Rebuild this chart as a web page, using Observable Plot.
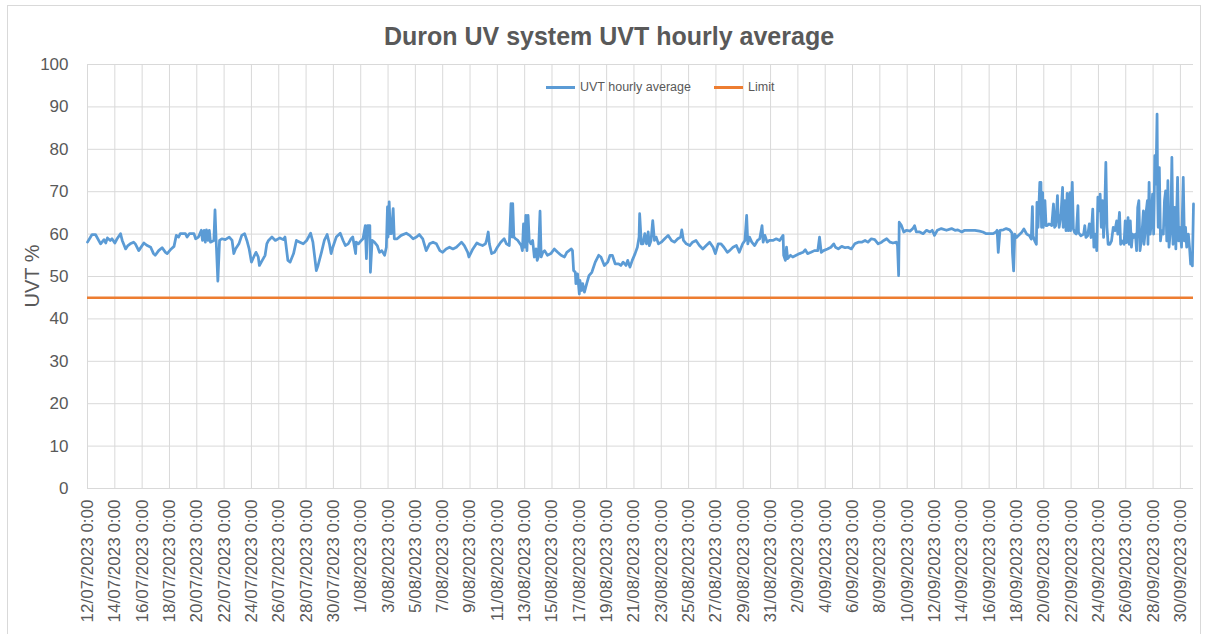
<!DOCTYPE html>
<html><head><meta charset="utf-8">
<script src="https://cdn.jsdelivr.net/npm/d3@7"></script>
<script src="https://cdn.jsdelivr.net/npm/@observablehq/plot@0.6"></script>
<style>
html,body{margin:0;padding:0;background:#fff;}
#wrap{position:relative;width:1206px;height:634px;overflow:hidden;font-family:'Liberation Sans',Arial,sans-serif;color:#595959;}
#wrap svg.plot{position:absolute;left:0;top:0;}
.abs{position:absolute;white-space:nowrap;}
</style></head><body>
<div id="wrap"></div>
<script>
const chartTitle = "Duron UV system UVT hourly average";
const yAxisTitle = "UVT %";
const seriesNames = ["UVT hourly average", "Limit"];
const seriesColors = ["#5b9bd5", "#ed7d31"];
const startDateUTC = [2023, 6, 12]; // 12/07/2023 0:00
const limitValue = 45;
const yTicks = [0, 10, 20, 30, 40, 50, 60, 70, 80, 90, 100];
const xTickLabels = ["12/07/2023 0:00","14/07/2023 0:00","16/07/2023 0:00","18/07/2023 0:00","20/07/2023 0:00","22/07/2023 0:00","24/07/2023 0:00","26/07/2023 0:00","28/07/2023 0:00","30/07/2023 0:00","1/08/2023 0:00","3/08/2023 0:00","5/08/2023 0:00","7/08/2023 0:00","9/08/2023 0:00","11/08/2023 0:00","13/08/2023 0:00","15/08/2023 0:00","17/08/2023 0:00","19/08/2023 0:00","21/08/2023 0:00","23/08/2023 0:00","25/08/2023 0:00","27/08/2023 0:00","29/08/2023 0:00","31/08/2023 0:00","2/09/2023 0:00","4/09/2023 0:00","6/09/2023 0:00","8/09/2023 0:00","10/09/2023 0:00","12/09/2023 0:00","14/09/2023 0:00","16/09/2023 0:00","18/09/2023 0:00","20/09/2023 0:00","22/09/2023 0:00","24/09/2023 0:00","26/09/2023 0:00","28/09/2023 0:00","30/09/2023 0:00"];

// [hours since 12/07/2023 0:00, UVT %]
const readingsJul = [[0,58.1],[8,59.9],[14,59.9],[23,57.7],[29,58.7],[32,57.9],[35,59.1],[40,58.5],[43,58.9],[48,57.9],[52,58.9],[58,60.1],[61,58.5],[67,56.5],[71,57.3],[75,57.7],[81,58.1],[84,57.7],[90,56.1],[99,57.9],[105,57.3],[111,56.9],[116,55.4],[119,55.0],[125,56.1],[131,56.8],[137,55.7],[140,55.4],[147,56.5],[152,57.1],[156,59.7],[160,59.3],[163,60.1],[172,60.1],[175,59.3],[179,60.1],[187,60.1],[190,58.9],[195,59.3],[200,60.9],[202,58.5],[205,60.9],[207,58.1],[209,61.0],[212,58.5],[214,60.9],[216,58.1],[222,58.5],[224,65.7],[226,58.5],[229,48.9],[232,58.5],[236,58.9],[242,58.7],[249,59.3],[254,58.5],[257,55.4],[260,56.5],[266,57.7],[271,59.7],[276,60.1],[280,58.5],[284,56.5],[288,53.4],[292,54.6],[296,55.7],[300,54.6],[302,52.6],[307,53.8],[312,55.0],[315,57.7],[318,58.5],[324,59.3],[330,58.5],[338,59.1],[344,58.7],[347,59.3],[352,53.8],[356,53.4],[362,55.4],[367,58.5],[373,58.1],[379,57.7],[385,58.5],[392,60.2],[396,58.1],[402,51.4],[405,52.6],[411,55.7],[416,58.5],[421,59.9],[425,57.7],[428,55.4],[431,56.9],[437,59.3],[444,60.2],[449,58.5],[453,57.3],[458,57.7],[463,58.9],[466,59.3],[471,55.4],[472,58.1],[476,57.7]];
const readingsAug = [[481,58.5],[484,58.9],[488,62.0],[490,54.2],[492,62.0],[496,62.0],[497,51.0],[500,58.5],[504,58.1],[509,57.3],[513,55.7],[517,56.1],[522,55.0],[525,56.9],[527,66.4],[528,59.3],[530,67.6],[532,60.1],[534,60.1],[537,66.0],[539,58.9],[544,58.9],[551,59.7],[560,60.2],[566,59.7],[572,58.9],[578,59.3],[583,59.9],[589,58.9],[595,56.1],[601,57.7],[607,58.1],[613,57.7],[619,56.1],[624,55.7],[630,56.5],[636,56.9],[642,56.5],[648,56.9],[654,57.7],[657,58.1],[662,57.3],[668,55.7],[670,54.6],[677,56.5],[684,57.9],[688,57.6],[694,57.3],[699,57.7],[701,58.5],[704,60.5],[706,57.7],[710,55.4],[715,55.7],[720,56.9],[726,58.1],[732,58.9],[736,57.7],[741,57.3],[744,67.2],[746,59.3],[747,67.2],[749,59.3],[752,58.9],[756,58.5],[762,57.3],[764,56.1],[766,62.4],[768,56.9],[770,64.4],[772,56.1],[774,64.4],[776,58.5],[779,57.7],[782,58.5],[785,54.6],[788,56.5],[790,53.8],[792,54.6],[795,65.4],[797,54.6],[800,55.7],[803,56.1],[808,55.0],[814,55.4],[820,56.5],[826,55.7],[832,55.0],[838,54.6],[842,55.7],[850,56.5],[852,56.1],[854,51.4],[857,51.0],[858,48.3],[861,50.6],[864,45.9],[865,49.1],[868,46.7],[870,48.3],[873,46.3],[877,48.3],[881,50.2],[886,51.0],[892,53.4],[898,55.0],[902,54.6],[908,52.6],[914,53.4],[918,55.0],[922,55.0],[927,53.0],[933,53.0],[937,52.6],[941,53.4],[946,52.6],[949,53.8],[953,52.2],[957,53.8],[962,55.4],[966,56.9],[969,59.3],[970,64.8],[973,57.7],[976,57.7],[979,60.1],[982,57.7],[985,60.5],[987,57.3],[990,58.5],[993,63.2],[996,58.5],[999,59.3],[1003,57.7],[1008,58.1],[1014,58.9],[1020,59.7],[1026,58.5],[1031,58.1],[1037,58.9],[1042,59.3],[1044,61.0],[1047,58.5],[1052,57.7],[1058,57.3],[1063,58.1],[1069,58.5],[1075,57.3],[1081,56.5],[1087,57.3],[1093,58.1],[1099,56.9],[1103,55.4],[1108,57.7],[1113,57.7],[1118,56.9],[1124,55.7],[1128,56.1],[1134,56.9],[1140,57.3],[1145,55.7],[1151,57.7],[1155,58.5],[1158,64.4],[1160,57.7],[1163,59.3],[1167,58.1],[1172,57.3],[1177,58.5],[1181,58.9],[1185,62.0],[1187,58.1],[1190,59.7],[1194,58.1],[1198,58.5],[1204,58.5],[1210,58.9],[1216,58.5],[1222,59.7],[1223,55.0]];
const readingsSep = [[1226,53.8],[1228,56.9],[1230,54.2],[1235,55.0],[1239,54.6],[1245,55.0],[1251,55.4],[1257,55.7],[1261,56.3],[1265,55.4],[1271,55.7],[1277,56.1],[1283,56.1],[1286,59.3],[1289,55.7],[1293,56.1],[1300,56.5],[1306,56.9],[1311,57.7],[1314,56.9],[1319,56.5],[1325,57.1],[1331,56.8],[1336,56.9],[1342,56.5],[1348,57.7],[1354,58.1],[1360,58.1],[1366,58.5],[1371,58.1],[1377,58.9],[1383,58.7],[1389,57.7],[1395,58.1],[1399,58.5],[1404,58.9],[1410,58.1],[1415,57.9],[1421,58.1],[1423,57.3],[1425,50.2],[1426,62.8],[1430,62.0],[1434,60.5],[1439,60.9],[1445,60.7],[1450,61.3],[1453,62.0],[1456,60.5],[1462,60.5],[1468,60.1],[1474,60.9],[1480,60.5],[1484,60.9],[1488,59.7],[1493,60.9],[1500,61.3],[1509,60.9],[1518,61.3],[1524,60.9],[1529,61.0],[1536,60.5],[1541,60.9],[1550,60.9],[1559,60.9],[1567,60.7],[1573,60.5],[1579,60.1],[1585,60.1],[1591,60.1],[1596,60.5],[1598,60.9],[1600,55.7],[1603,60.9],[1609,61.0],[1614,61.3],[1620,61.0],[1624,60.3],[1625,55.5],[1627,51.3],[1629,60.0],[1632,59.2],[1635,59.6],[1641,60.4],[1645,61.2],[1650,60.0],[1655,59.6],[1658,58.8],[1660,66.5],[1661,59.6],[1664,58.4],[1667,57.6],[1668,67.5],[1670,61.6],[1673,72.2],[1675,72.2],[1676,61.6],[1678,69.8],[1679,61.6],[1682,67.9],[1684,62.0],[1686,62.0],[1689,62.4],[1694,62.0],[1697,67.1],[1699,61.6],[1701,62.0],[1704,69.1],[1705,64.7],[1707,61.6],[1710,64.3],[1713,71.0],[1714,61.6],[1717,67.9],[1719,60.8],[1721,69.6],[1723,60.8],[1726,69.8],[1727,60.8],[1730,72.2],[1732,61.2],[1734,60.4],[1737,60.0],[1740,66.7],[1741,60.4],[1745,59.6],[1750,60.0],[1752,62.0],[1754,59.2],[1757,59.6],[1760,62.4],[1763,59.2],[1766,65.9],[1768,56.9],[1771,60.0],[1773,56.1],[1775,68.7],[1778,65.5],[1779,69.4],[1781,61.6],[1783,67.9],[1785,59.2],[1787,65.5],[1789,76.9],[1791,61.6],[1793,57.6],[1796,57.6],[1799,58.4],[1802,61.6],[1805,60.8],[1808,63.1],[1810,60.0],[1813,65.1],[1815,57.6],[1817,58.4],[1821,57.6],[1823,63.1],[1825,58.0],[1828,63.9],[1830,57.6],[1832,63.1],[1834,56.9],[1836,60.0],[1838,59.2],[1841,60.0],[1843,56.1],[1845,66.3],[1847,67.9],[1849,56.1],[1852,59.2],[1855,65.5],[1856,57.6],[1859,61.6],[1860,65.5],[1862,67.9],[1863,57.6],[1865,72.2],[1867,60.0],[1869,63.1],[1871,69.4],[1873,60.0],[1874,67.9],[1875,78.5],[1877,71.8],[1879,88.3],[1880,69.4],[1881,61.6],[1883,75.7],[1885,58.4],[1887,60.8],[1890,60.0],[1892,67.9],[1894,70.2],[1896,58.4],[1898,72.6],[1900,56.9],[1903,61.6],[1905,78.1],[1907,57.6],[1910,66.3],[1912,56.5],[1915,73.4],[1917,58.4],[1919,61.6],[1922,56.9],[1925,73.4],[1927,58.4],[1929,61.6],[1931,56.9],[1934,60.0],[1936,56.9],[1938,52.9],[1940,54.5],[1941,52.5],[1943,67.1]];

const startMs = Date.UTC(...startDateUTC);
const toDate = h => new Date(startMs + h * 3600000);
const readings = [...readingsJul, ...readingsAug, ...readingsSep].map(([h, v]) => ({date: toDate(h), uvt: v}));
const tickDates = xTickLabels.map(s => {
  const [d, m, y] = s.split(" ")[0].split("/").map(Number);
  return new Date(Date.UTC(y, m - 1, d));
});
const labelOf = new Map(tickDates.map((d, i) => [+d, xTickLabels[i]]));
const xDomain = [readings[0].date, readings[readings.length - 1].date];
const font = "'Liberation Sans', Arial, sans-serif";

const chart = Plot.plot({
  width: 1206, height: 634,
  marginLeft: 87, marginRight: 13, marginTop: 64, marginBottom: 146,
  style: {fontFamily: font, color: "#595959", background: "transparent", overflow: "visible"},
  x: {type: "utc", domain: xDomain},
  y: {domain: [0, 100]},
  marks: [
    Plot.gridY(yTicks, {stroke: "#d9d9d9", strokeOpacity: 1, strokeWidth: 1}),
    Plot.gridX(tickDates, {stroke: "#d9d9d9", strokeOpacity: 1, strokeWidth: 1}),
    Plot.axisY(yTicks, {tickSize: 0, tickPadding: 19, fontSize: 17, fill: "#595959", label: null}),
    Plot.axisX(tickDates, {tickSize: 0, tickPadding: 11, tickRotate: -90, fontSize: 17, fill: "#595959", tickFormat: d => labelOf.get(+d), label: null}),
    Plot.line(readings, {x: "date", y: "uvt", stroke: seriesColors[0], strokeWidth: 2.75, strokeLinejoin: "round", strokeLinecap: "round"}),
    Plot.ruleY([limitValue], {stroke: seriesColors[1], strokeWidth: 2.5})
  ]
});
chart.classList.add("plot");
const wrap = document.getElementById("wrap");
wrap.appendChild(chart);

function addDiv(text, css) {
  const d = document.createElement("div");
  d.className = "abs";
  d.textContent = text;
  Object.assign(d.style, css);
  wrap.appendChild(d);
  return d;
}
// outer chart border
const border = document.createElement("div");
Object.assign(border.style, {position: "absolute", left: "7px", top: "5px", width: "1194px", height: "660px", border: "1px solid #d9d9d9", boxSizing: "border-box"});
wrap.appendChild(border);
// title
addDiv(chartTitle, {left: "6px", width: "1206px", top: "24px", textAlign: "center", fontSize: "25px", fontWeight: "bold", lineHeight: "25px", color: "#595959"});
// y axis title
addDiv(yAxisTitle, {left: "32px", top: "276px", fontSize: "20px", lineHeight: "20px", transform: "translate(-50%,-50%) rotate(-90deg)", color: "#595959"});
// legend
const legendX = [546, 714];
seriesNames.forEach((name, i) => {
  const sw = document.createElement("div");
  Object.assign(sw.style, {position: "absolute", left: legendX[i] + "px", top: "86px", width: "29px", height: "2.5px", background: seriesColors[i]});
  wrap.appendChild(sw);
  addDiv(name, {left: (legendX[i] + 34) + "px", top: "80px", fontSize: "12.5px", lineHeight: "14px", color: "#595959"});
});
</script>
</body></html>
